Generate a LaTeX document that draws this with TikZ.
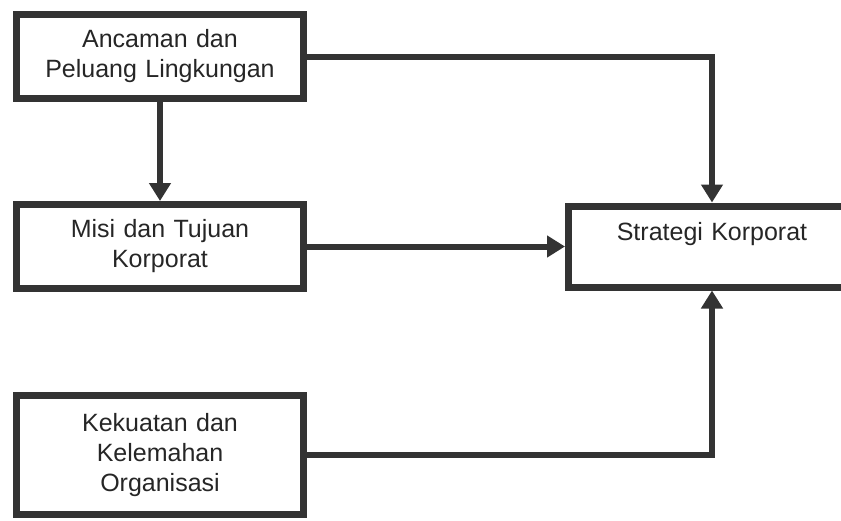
\documentclass[tikz,border=0pt]{standalone}
\usepackage{fontspec}
\setmainfont{Liberation Sans}
\usetikzlibrary{arrows.meta, positioning}

\begin{document}
\begin{tikzpicture}[x=1pt, y=-1pt, >={Triangle[length=18pt,width=21pt]}]

    % Define block styles
    \tikzstyle{block} = [rectangle, draw=black!80, line width=7pt, text=black!85,
        text width=270pt, align=center, inner sep=4pt, minimum width=287pt,
        minimum height=84pt, font=\fontsize{25}{30}\selectfont]
    \tikzstyle{line} = [draw=black!80, line width=6pt, ->]

    \useasboundingbox (0,0) rectangle (841,520);

    % Define nodes
    \node [block] (ancaman) at (160,56.5) {Ancaman dan\\Peluang Lingkungan};
    \node [block, below=99pt of ancaman] (misi) {Misi dan Tujuan\\Korporat};
    \node [block, below=100pt of misi, minimum height=119pt] (org) {Kekuatan dan\\Kelemahan\\Organisasi};
    \node [block, right=258pt of misi, minimum height=81pt, text depth=30pt] (strat) {Strategi Korporat};

    % Draw edges
    \path [line] (ancaman) -- (misi);
    \path [line] (misi) -- (strat);
    \path [line] (ancaman) -| (strat);
    \path [line] (org) -| (strat);

\end{tikzpicture}
\end{document}
